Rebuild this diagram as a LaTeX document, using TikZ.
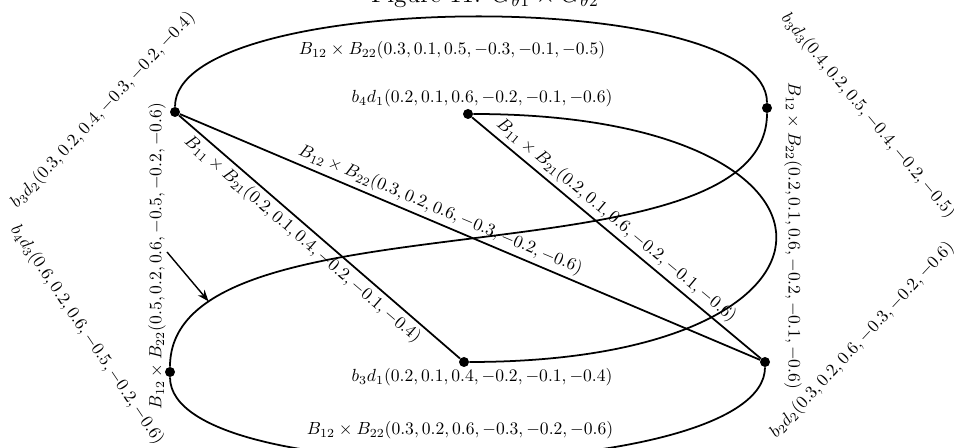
\documentclass[tikz,border=0pt]{standalone}
\usepackage{tikz}
\usetikzlibrary{arrows.meta}
\tikzset{
  vertex/.style={circle, fill=black, minimum size=0.2cm, inner sep=0pt},
  arcline/.style={line width=1pt, draw=black},
  pointer/.style={->, line width=0.8pt, draw=black, >=Stealth},
  weight/.style={inner sep=2pt, sloped},
  note/.style={inner sep=1pt}
}

\begin{document}
\begin{tikzpicture}
  \useasboundingbox (0,0) rectangle (19.08,8.96);

  \node[anchor=base, font=\Large] (title) at (9.70,8.90) {Figure 11. $G_{\theta 1}\times G_{\theta 2}$};

  \node[vertex] (a) at (3.50,6.72) {};
  \node[vertex] (b) at (15.34,6.80) {};
  \node[vertex] (c) at (9.36,6.68) {};
  \node[vertex] (d) at (9.28,1.72) {};
  \node[vertex] (e) at (3.40,1.52) {};
  \node[vertex] (f) at (15.30,1.72) {};

  \draw[arcline] (a) .. controls (3.50,9.18) and (15.34,9.26) .. (b);
  \draw[arcline] (c) .. controls (17.56,6.68) and (17.56,1.72) .. (d);
  \draw[arcline] (b) .. controls (15.34,3.16) and (3.40,5.22) .. coordinate[pos=0.845] (tip) (e);
  \draw[arcline] (e) .. controls (3.40,-0.92) and (15.30,-0.72) .. (f);

  \draw[arcline] (a) -- node[weight, above, pos=0.44] {$B_{12}\times B_{22}(0.3,0.2,0.6,-0.3,-0.2,-0.6)$} (f);
  \draw[arcline] (a) -- node[weight, below, pos=0.47] {$B_{11}\times B_{21}(0.2,0.1,0.4,-0.2,-0.1,-0.4)$} (d);
  \draw[arcline] (c) -- node[weight, above, pos=0.47] {$B_{11}\times B_{21}(0.2,0.1,0.6,-0.2,-0.1,-0.6)$} (f);

  \node[note] (topw) at (9.04,7.96) {$B_{12}\times B_{22}(0.3,0.1,0.5,-0.3,-0.1,-0.5)$};
  \node[note] (botw) at (9.20,0.36) {$B_{12}\times B_{22}(0.3,0.2,0.6,-0.3,-0.2,-0.6)$};
  \node[note, rotate=90] (leftw) at (3.14,3.84) {$B_{12}\times B_{22}(0.5,0.2,0.6,-0.5,-0.2,-0.6)$};
  \node[note, rotate=-90] (rightw) at (15.86,4.24) {$B_{12}\times B_{22}(0.2,0.1,0.6,-0.2,-0.1,-0.6)$};

  \coordinate (tail) at (3.34,3.92);
  \draw[pointer] (tail) -- (tip);

  \node[note] (clab) at (9.64,7.00) {$b_4d_1(0.2,0.1,0.6,-0.2,-0.1,-0.6)$};
  \node[note] (dlab) at (9.64,1.42) {$b_3d_1(0.2,0.1,0.4,-0.2,-0.1,-0.4)$};
  \node[note, rotate=47] (alab) at (2.06,6.76) {$b_3d_2(0.3,0.2,0.4,-0.3,-0.2,-0.4)$};
  \node[note, rotate=-56] (elab) at (1.74,2.26) {$b_4d_3(0.6,0.2,0.6,-0.5,-0.2,-0.6)$};
  \node[note, rotate=-50] (blab) at (17.36,6.64) {$b_3d_3(0.4,0.2,0.5,-0.4,-0.2,-0.5)$};
  \node[note, rotate=47] (flab) at (17.24,2.16) {$b_2d_2(0.3,0.2,0.6,-0.3,-0.2,-0.6)$};
\end{tikzpicture}
\end{document}
